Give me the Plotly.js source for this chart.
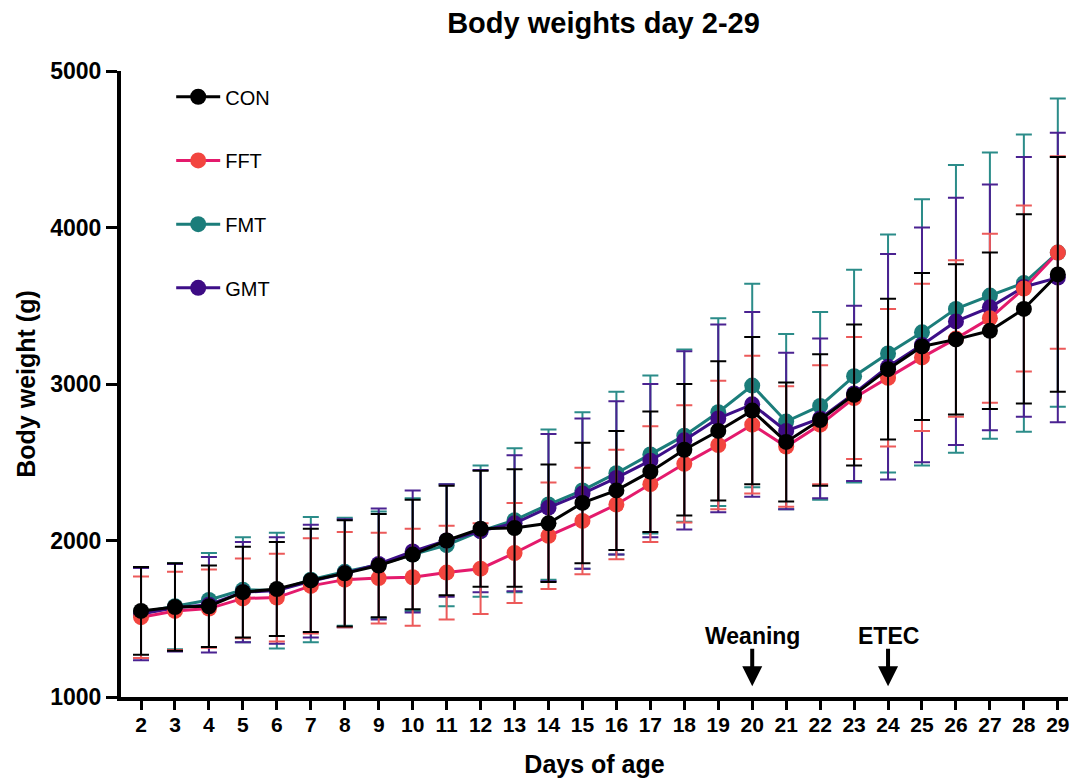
<!DOCTYPE html>
<html>
<head>
<meta charset="utf-8">
<script src="https://cdn.plot.ly/plotly-3.0.1.min.js"></script>
<style>html,body{margin:0;padding:0;background:#fff;}#chart{width:1071px;height:780px;}</style>
</head>
<body>
<div id="chart"></div>
<script>
const days = [2,3,4,5,6,7,8,9,10,11,12,13,14,15,16,17,18,19,20,21,22,23,24,25,26,27,28,29];

const conMean = [1550,1575,1580,1670,1690,1745,1790,1840,1910,2000,2075,2080,2110,2240,2320,2440,2580,2700,2830,2630,2770,2930,3095,3240,3285,3340,3480,3700];
const conSD   = [280,280,260,290,300,330,340,330,350,350,370,375,375,385,380,385,420,445,470,380,420,450,450,470,480,500,605,750];

const fftMean = [1510,1550,1565,1630,1635,1710,1750,1760,1765,1795,1820,1920,2030,2125,2230,2360,2490,2610,2740,2600,2740,2910,3040,3170,3290,3420,3610,3840];
const fftSD   = [260,250,250,255,280,305,305,290,310,300,290,320,340,340,350,370,375,410,440,385,380,390,440,470,500,540,530,615];

const fmtMean = [1540,1580,1620,1685,1680,1750,1800,1845,1910,1970,2060,2130,2230,2320,2430,2550,2670,2820,2990,2760,2860,3050,3195,3330,3480,3565,3645,3840];
const fmtSD   = [290,275,300,335,370,400,345,340,360,390,420,460,480,500,520,505,550,600,650,560,600,680,760,850,920,915,950,985];

const gmtMean = [1530,1570,1590,1670,1680,1740,1790,1850,1930,2000,2060,2110,2210,2300,2400,2510,2640,2780,2870,2700,2780,2940,3110,3250,3400,3490,3620,3680];
const gmtSD   = [295,280,305,320,340,360,345,355,390,360,390,435,470,480,490,490,570,600,590,500,510,560,720,750,790,785,830,925];

const groupNames = ['CON','FFT','FMT','GMT'];
const eventDays = [20, 24];
const eventLabels = ['Weaning', 'ETEC'];

const FONT = 'Liberation Sans, Arial, Helvetica, sans-serif';

function mkTrace(name, y, sd, lineColor, markerColor, errColor, rank) {
  return {
    type: 'scatter', mode: 'lines+markers', name: name,
    x: days, y: y,
    error_y: {type: 'data', array: sd, visible: true, color: errColor, thickness: 2, width: 8},
    line: {color: lineColor, width: 3},
    marker: {color: markerColor, size: 16, line: {width: 0}},
    legendgroup: name, legendrank: rank
  };
}

const data = [
  mkTrace(groupNames[2], fmtMean, fmtSD, '#1b7d7a', '#1b7d7a', '#2b8c89', 3),
  mkTrace(groupNames[3], gmtMean, gmtSD, '#3d0f88', '#3d0b84', '#4a2291', 4),
  mkTrace(groupNames[1], fftMean, fftSD, '#e41a6c', '#f2453f', '#ec5a5a', 2),
  mkTrace(groupNames[0], conMean, conSD, '#000000', '#000000', '#000000', 1)
];

const annotations = [];
eventDays.forEach((d, i) => {
  annotations.push({
    x: d, y: 1390, xref: 'x', yref: 'y', text: eventLabels[i], showarrow: false,
    font: {family: FONT, size: 23, color: '#000', weight: 700}
  });
  annotations.push({
    x: d, y: 1068, ax: d, ay: 1318, xref: 'x', yref: 'y', axref: 'x', ayref: 'y',
    text: '', showarrow: true, arrowhead: 2, arrowsize: 1, arrowwidth: 4, arrowcolor: '#000'
  });
});

const layout = {
  width: 1071, height: 780,
  paper_bgcolor: '#fff', plot_bgcolor: '#fff',
  margin: {l: 121, r: 3, t: 71, b: 83},
  font: {family: FONT, color: '#000'},
  title: {
    text: 'Body weights day 2-29',
    font: {family: FONT, size: 29, color: '#000', weight: 700},
    x: 0.5635, xref: 'container', xanchor: 'center',
    y: 0.971, yref: 'container', yanchor: 'middle'
  },
  xaxis: {
    range: [1.41, 29.3],
    tickmode: 'array', tickvals: days, ticktext: days.map(String),
    showgrid: false, zeroline: false,
    showline: true, linecolor: '#000', linewidth: 4,
    ticks: 'outside', ticklen: 9, tickwidth: 3, tickcolor: '#000',
    ticklabelstandoff: -3,
    tickfont: {family: FONT, size: 21, color: '#000', weight: 700},
    title: {text: 'Days of age', font: {family: FONT, size: 25, color: '#000', weight: 700}, standoff: 21}
  },
  yaxis: {
    range: [1000, 5000],
    tickvals: [1000,2000,3000,4000,5000],
    showgrid: false, zeroline: false,
    showline: true, linecolor: '#000', linewidth: 4,
    ticks: 'outside', ticklen: 11, tickwidth: 3, tickcolor: '#000',
    tickfont: {family: FONT, size: 23, color: '#000', weight: 700},
    title: {text: 'Body weight (g)', font: {family: FONT, size: 25, color: '#000', weight: 700}, standoff: 8}
  },
  showlegend: true,
  legend: {
    x: 0.053, xref: 'paper', xanchor: 'left',
    y: 0.99, yref: 'paper', yanchor: 'top',
    bgcolor: 'rgba(0,0,0,0)', borderwidth: 0,
    font: {family: FONT, size: 20, color: '#000'},
    tracegroupgap: 34.7,
    itemwidth: 44
  },
  annotations: annotations
};

Plotly.newPlot('chart', data, layout, {displayModeBar: false, staticPlot: true});
</script>
</body>
</html>
